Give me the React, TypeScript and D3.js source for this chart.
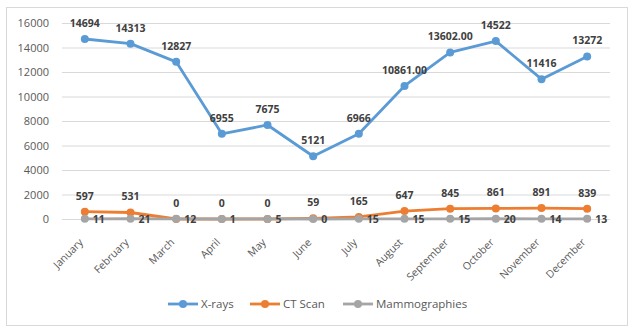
import React, { useRef, useEffect } from 'react';
import * as d3 from 'd3';

const months = ['January', 'February', 'March', 'April', 'May', 'June', 'July', 'August', 'September', 'October', 'November', 'December'];
const xrays = [14694, 14313, 12827, 6955, 7675, 5121, 6966, 10861, 13602, 14522, 11416, 13272];
const xrayLabels = ['14694', '14313', '12827', '6955', '7675', '5121', '6966', '10861.00', '13602.00', '14522', '11416', '13272'];
const ctScan = [597, 531, 0, 0, 0, 59, 165, 647, 845, 861, 891, 839];
const mammo = [11, 21, 12, 1, 5, 0, 15, 15, 15, 20, 14, 13];
const yTicks = [0, 2000, 4000, 6000, 8000, 10000, 12000, 14000, 16000];

const seriesList = [
  { name: 'X-rays', values: xrays, labels: xrayLabels, color: '#5B9BD5', pos: 'above' },
  { name: 'CT Scan', values: ctScan, labels: ctScan.map(String), color: '#ED7D31', pos: 'above' },
  { name: 'Mammographies', values: mammo, labels: mammo.map(String), color: '#A5A5A5', pos: 'right' },
];

const App = () => {
  const chartRef = useRef<SVGSVGElement>(null);

  useEffect(() => {
    const svg = d3.select(chartRef.current);
    svg.selectAll('*').remove();
    const font = '"Open Sans", "Noto Sans", sans-serif';

    // outer frame
    svg.append('rect')
      .attr('x', 6.5).attr('y', 7.5).attr('width', 621).attr('height', 318)
      .attr('fill', '#fff').attr('stroke', '#d9d9d9');

    const x = d3.scaleBand().domain(months).range([62, 610]);
    const y = d3.scaleLinear().domain([0, 16000]).range([219, 23]);
    const cx = (i: number) => (x(months[i]) as number) + x.bandwidth() / 2;

    // gridlines
    svg.append('g').selectAll('line').data(yTicks).join('line')
      .attr('x1', 62).attr('x2', 610)
      .attr('y1', d => y(d) + 0.5).attr('y2', d => y(d) + 0.5)
      .attr('stroke', '#d9d9d9').attr('stroke-width', 1);

    // y axis labels
    svg.append('g').selectAll('text').data(yTicks).join('text')
      .attr('x', 49).attr('y', d => y(d) + 4)
      .attr('text-anchor', 'end')
      .attr('font-family', font).attr('font-size', 11).attr('fill', '#595959')
      .text(d => d);

    // x axis labels
    svg.append('g').selectAll('text').data(months).join('text')
      .attr('text-anchor', 'end')
      .attr('transform', (d, i) => `translate(${cx(i) - 1},${243}) rotate(-45)`)
      .attr('font-family', font).attr('font-size', 10.5).attr('fill', '#595959')
      .text(d => d);

    const line = d3.line<number>()
      .x((d, i) => cx(i))
      .y(d => y(d));

    seriesList.forEach(s => {
      const g = svg.append('g');
      g.append('path')
        .datum(s.values)
        .attr('fill', 'none')
        .attr('stroke', s.color)
        .attr('stroke-width', 2.8)
        .attr('stroke-linejoin', 'round')
        .attr('d', line);
      g.selectAll('circle').data(s.values).join('circle')
        .attr('cx', (d, i) => cx(i)).attr('cy', d => y(d))
        .attr('r', 4).attr('fill', s.color);
    });

    // data labels
    seriesList.forEach(s => {
      svg.append('g').selectAll('text').data(s.values).join('text')
        .attr('x', (d, i) => s.pos === 'above' ? cx(i) : cx(i) + 8)
        .attr('y', d => s.pos === 'above' ? y(d) - 12 : y(d) + 4)
        .attr('text-anchor', s.pos === 'above' ? 'middle' : 'start')
        .attr('font-family', font).attr('font-size', 10.5).attr('font-weight', 'bold')
        .attr('fill', '#404040')
        .text((d, i) => s.labels[i]);
    });

    // legend
    const legendItems = [
      { x: 168, s: seriesList[0] },
      { x: 250, s: seriesList[1] },
      { x: 343, s: seriesList[2] },
    ];
    const lg = svg.append('g');
    legendItems.forEach(item => {
      lg.append('line')
        .attr('x1', item.x).attr('x2', item.x + 30)
        .attr('y1', 304).attr('y2', 304)
        .attr('stroke', item.s.color).attr('stroke-width', 2.8);
      lg.append('circle')
        .attr('cx', item.x + 15).attr('cy', 304).attr('r', 4)
        .attr('fill', item.s.color);
      lg.append('text')
        .attr('x', item.x + 33).attr('y', 308)
        .attr('font-family', font).attr('font-size', 11.5).attr('fill', '#595959')
        .text(item.s.name);
    });
  }, []);

  return (
    <svg ref={chartRef} width={637} height={330}
      style={{ position: 'absolute', left: 0, top: 0 }}></svg>
  );
};

export default App;
